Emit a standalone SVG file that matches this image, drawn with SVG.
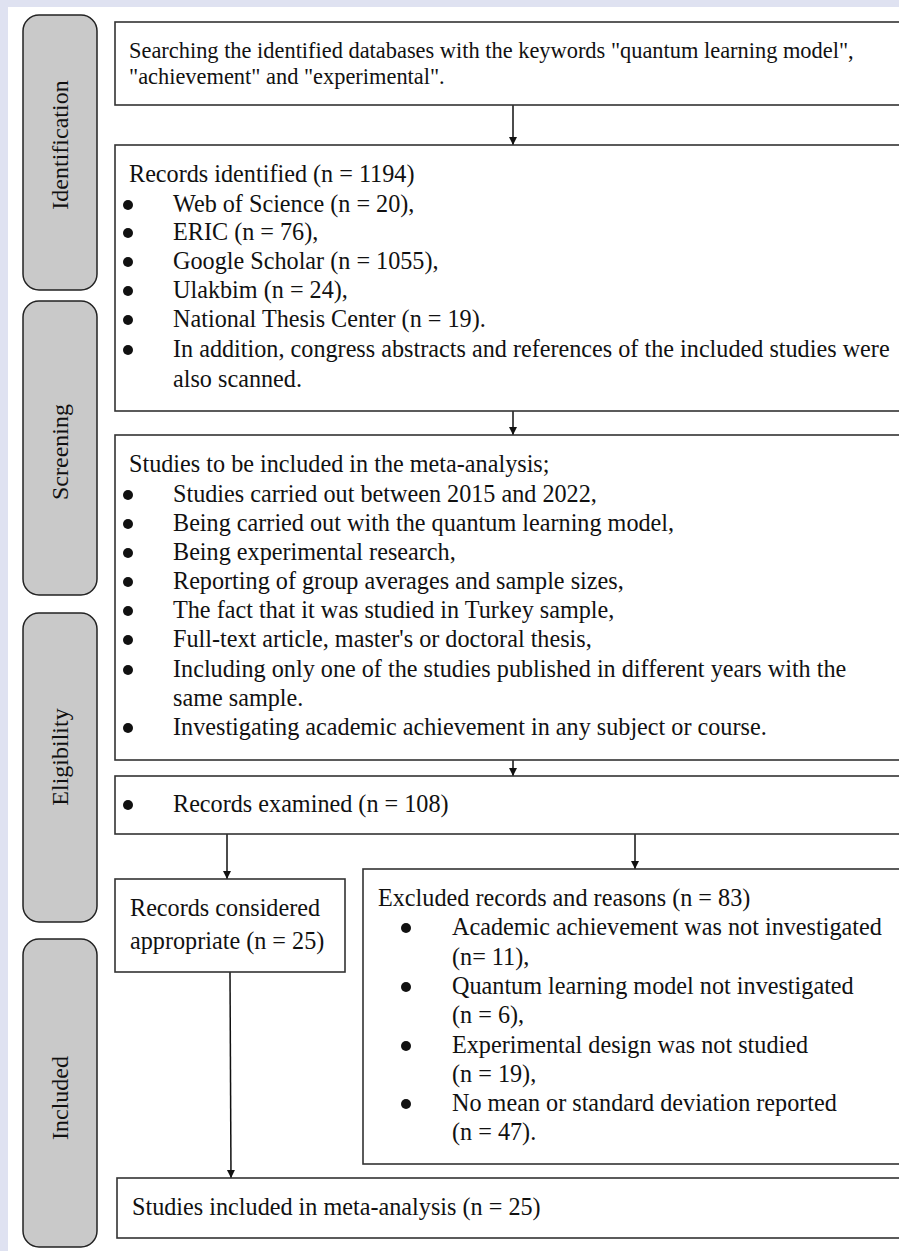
<svg xmlns="http://www.w3.org/2000/svg" width="899" height="1251" viewBox="0 0 899 1251">
<defs>
<style>
.bg{fill:#dfe2f1}
.lane{fill:#c9c9c9;stroke:#222;stroke-width:1.5}
.box{fill:#fff;stroke:#333;stroke-width:1.6}
.t{font-family:"Liberation Serif","Times New Roman",serif;font-size:24.2px;fill:#111}
.s{font-size:22.4px}
.lt{font-family:"Liberation Serif","Times New Roman",serif;font-size:24px;fill:#111;text-anchor:middle}
.b{fill:#111}
.c{stroke:#111;stroke-width:1.5;fill:none}
</style>
<marker id="ah" viewBox="0 0 8 10" refX="8" refY="5" markerWidth="8" markerHeight="10" markerUnits="userSpaceOnUse" orient="auto">
<path d="M0,1 L8,5 L0,9 Z" fill="#111"/>
</marker>
</defs>
<rect x="0" y="0" width="899" height="1251" class="bg"/>
<rect x="8" y="7" width="891" height="1244" fill="#fff"/>

<g id="lane-identification">
<rect x="23" y="15" width="74" height="275" rx="16" class="lane"/>
<text class="lt" transform="translate(68,145) rotate(-90)">Identification</text>
</g>
<g id="lane-screening">
<rect x="23" y="301" width="74" height="294" rx="16" class="lane"/>
<text class="lt" transform="translate(68,452) rotate(-90)">Screening</text>
</g>
<g id="lane-eligibility">
<rect x="23" y="613" width="74" height="309" rx="16" class="lane"/>
<text class="lt" transform="translate(68,757) rotate(-90)">Eligibility</text>
</g>
<g id="lane-included">
<rect x="23" y="939" width="74" height="308" rx="16" class="lane"/>
<text class="lt" transform="translate(68,1098) rotate(-90)">Included</text>
</g>

<g id="connectors">
<line x1="513" y1="105" x2="513" y2="145" class="c" marker-end="url(#ah)"/>
<line x1="513" y1="411" x2="513" y2="435" class="c" marker-end="url(#ah)"/>
<line x1="513" y1="760" x2="513" y2="776" class="c" marker-end="url(#ah)"/>
<line x1="227" y1="834" x2="227" y2="879" class="c" marker-end="url(#ah)"/>
<line x1="635" y1="834" x2="635" y2="869" class="c" marker-end="url(#ah)"/>
<line x1="230" y1="972" x2="231" y2="1178" class="c" marker-end="url(#ah)"/>
</g>

<g id="search">
<rect x="115" y="22" width="800" height="83" class="box"/>
<text class="t s" x="129" y="58">Searching the identified databases with the keywords "quantum learning model",</text>
<text class="t s" x="129" y="84">"achievement" and "experimental".</text>
</g>

<g id="records-identified">
<rect x="115" y="145" width="800" height="266" class="box"/>
<text class="t" x="129" y="182">Records identified (n = 1194)</text>
<circle cx="128" cy="205" r="5" class="b"/><text class="t" x="173" y="212">Web of Science (n = 20),</text>
<circle cx="128" cy="233" r="5" class="b"/><text class="t" x="173" y="240">ERIC (n = 76),</text>
<circle cx="128" cy="262" r="5" class="b"/><text class="t" x="173" y="269">Google Scholar (n = 1055),</text>
<circle cx="128" cy="291" r="5" class="b"/><text class="t" x="173" y="298">Ulakbim (n = 24),</text>
<circle cx="128" cy="320" r="5" class="b"/><text class="t" x="173" y="327">National Thesis Center (n = 19).</text>
<circle cx="128" cy="350" r="5" class="b"/><text class="t" x="173" y="357">In addition, congress abstracts and references of the included studies were</text>
<text class="t" x="173" y="387">also scanned.</text>
</g>

<g id="criteria">
<rect x="115" y="435" width="800" height="325" class="box"/>
<text class="t" x="129" y="472">Studies to be included in the meta-analysis;</text>
<circle cx="128" cy="495" r="5" class="b"/><text class="t" x="173" y="502">Studies carried out between 2015 and 2022,</text>
<circle cx="128" cy="524" r="5" class="b"/><text class="t" x="173" y="531">Being carried out with the quantum learning model,</text>
<circle cx="128" cy="553" r="5" class="b"/><text class="t" x="173" y="560">Being experimental research,</text>
<circle cx="128" cy="582" r="5" class="b"/><text class="t" x="173" y="589">Reporting of group averages and sample sizes,</text>
<circle cx="128" cy="611" r="5" class="b"/><text class="t" x="173" y="618">The fact that it was studied in Turkey sample,</text>
<circle cx="128" cy="640" r="5" class="b"/><text class="t" x="173" y="647">Full-text article, master's or doctoral thesis,</text>
<circle cx="128" cy="670" r="5" class="b"/><text class="t" x="173" y="677">Including only one of the studies published in different years with the</text>
<text class="t" x="173" y="706">same sample.</text>
<circle cx="128" cy="728" r="5" class="b"/><text class="t" x="173" y="735">Investigating academic achievement in any subject or course.</text>
</g>

<g id="records-examined">
<rect x="115" y="776" width="800" height="58" class="box"/>
<circle cx="128" cy="805" r="5" class="b"/><text class="t" x="173" y="812">Records examined (n = 108)</text>
</g>

<g id="records-appropriate">
<rect x="115" y="879" width="230" height="93" class="box"/>
<text class="t" x="130" y="916">Records considered</text>
<text class="t" x="130" y="949">appropriate (n = 25)</text>
</g>

<g id="excluded">
<rect x="363" y="869" width="552" height="295" class="box"/>
<text class="t" x="378" y="906">Excluded records and reasons (n = 83)</text>
<circle cx="406" cy="928" r="5" class="b"/><text class="t" x="452" y="935">Academic achievement was not investigated</text>
<text class="t" x="452" y="965">(n= 11),</text>
<circle cx="406" cy="987" r="5" class="b"/><text class="t" x="452" y="994">Quantum learning model not investigated</text>
<text class="t" x="452" y="1023">(n = 6),</text>
<circle cx="406" cy="1046" r="5" class="b"/><text class="t" x="452" y="1053">Experimental design was not studied</text>
<text class="t" x="452" y="1082">(n = 19),</text>
<circle cx="406" cy="1104" r="5" class="b"/><text class="t" x="452" y="1111">No mean or standard deviation reported</text>
<text class="t" x="452" y="1140">(n = 47).</text>
</g>

<g id="included-final">
<rect x="117" y="1178" width="800" height="60" class="box"/>
<text class="t" x="132" y="1215">Studies included in meta-analysis (n = 25)</text>
</g>
</svg>
